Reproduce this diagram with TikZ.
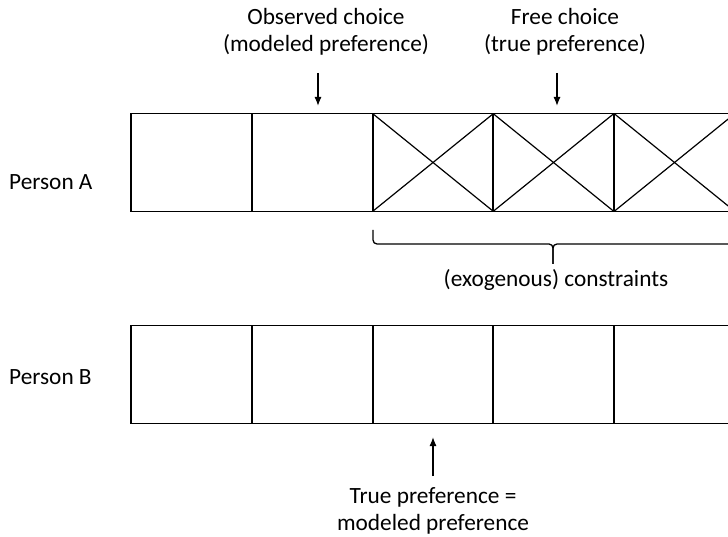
\documentclass[tikz,border=0pt]{standalone}
\usepackage{fontspec}
\setmainfont{Carlito}
\usetikzlibrary{arrows.meta}
\begin{document}
\begin{tikzpicture}[x=1pt,y=-1pt,
  cell/.style={draw, line width=1.6pt, minimum width=121pt, minimum height=98pt, inner sep=0pt, outer sep=0pt},
  lbl/.style={font=\fontsize{23.3}{27.5}\selectfont, align=center, inner sep=0pt},
  arr/.style={line width=1.3pt, -{Latex[length=9pt,width=7pt]}},
  cross/.style={line width=1.2pt}]
\begin{scope}
\clip (0,0) rectangle (728,537);
% rows
\foreach \i/\x in {1/191.5,2/312.5,3/433,4/553.5,5/674.5} {
  \node[cell] (a\i) at (\x,162.5) {};
  \node[cell] (b\i) at (\x,374.5) {};
}
\foreach \i in {3,4,5} {
  \draw[cross] (a\i.north west) -- (a\i.south east);
  \draw[cross] (a\i.south west) -- (a\i.north east);
}
% labels
\node[lbl] (obs) at (326,32) {Observed choice\\(modeled preference)};
\node[lbl] (free) at (565,32) {Free choice\\(true preference)};
\node[lbl, anchor=west] (pa) at (9,182) {Person A};
\node[lbl, anchor=west] (pb) at (9,377) {Person B};
\node[lbl] (exo) at (556,280) {(exogenous) constraints};
\node[lbl] (tp) at (433,511) {True preference =\\modeled preference};
% arrows
\coordinate (t1) at (318,106);
\coordinate (t2) at (557,106);
\coordinate (t3) at (433,437);
\coordinate (s1) at (318,73);
\coordinate (s2) at (557,73);
\coordinate (s3) at (433,476);
\draw[arr] (s1) -- (t1);
\draw[arr] (s2) -- (t2);
\draw[arr] (s3) -- (t3);
% brace
\coordinate (bl) at (373,230);
\coordinate (br) at (733,230);
\coordinate (bm) at (553,264);
\draw[line width=1.3pt, rounded corners=4pt] (bl) -- (373,244) -- (553,244) -- (bm);
\draw[line width=1.3pt, rounded corners=4pt] (br) -- (733,244) -- (553,244) -- (bm);
\end{scope}
\pgfresetboundingbox
\useasboundingbox (0,0) rectangle (728,537);
\end{tikzpicture}
\end{document}
